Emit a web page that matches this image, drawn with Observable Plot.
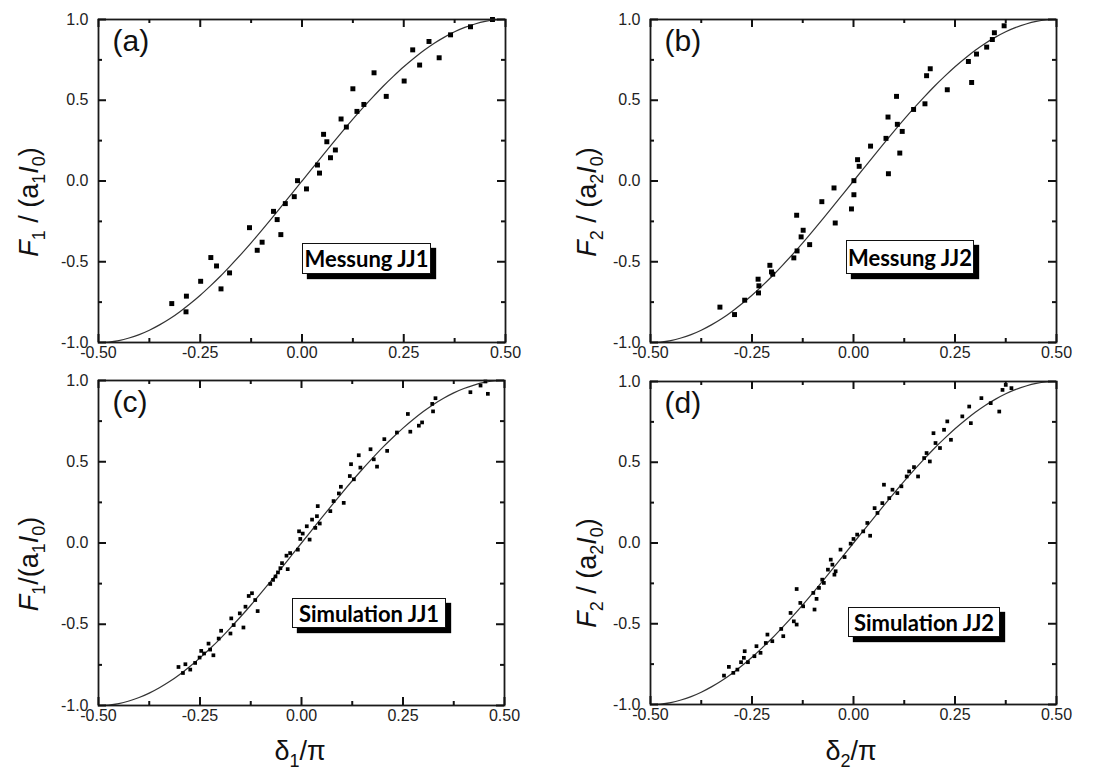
<!DOCTYPE html>
<html>
<head>
<meta charset="utf-8">
<script src="https://cdn.jsdelivr.net/npm/d3@7"></script>
<script src="https://cdn.jsdelivr.net/npm/@observablehq/plot@0.6"></script>
<style>
  html, body { margin: 0; padding: 0; background: #fff; }
  #root { position: relative; width: 1117px; height: 772px; overflow: hidden; background: #fff; }
  .panel { position: absolute; }
  .panel svg { overflow: visible; background: transparent; }
  .tag {
    position: absolute; box-sizing: border-box; background: #fff;
    border: 1.5px solid #111; box-shadow: 5px 5px 1px #000;
    font-family: Lato, "Open Sans", sans-serif; font-weight: 700; font-size: 22px;
    color: #000; display: flex; align-items: center; justify-content: center;
    white-space: nowrap;
  }
  #overlay { position: absolute; left: 0; top: 0; pointer-events: none; }
</style>
</head>
<body>
<div id="root"></div>
<script>
// ---------- data ----------
const xTicks = [-0.5, -0.25, 0, 0.25, 0.5];
const xMinor = [-0.375, -0.125, 0.125, 0.375];
const yTicks = [-1, -0.5, 0, 0.5, 1];
const yMinor = [-0.75, -0.25, 0.25, 0.75];

// fitted curve
const curveX = [-0.5,-0.475,-0.45,-0.425,-0.4,-0.375,-0.35,-0.325,-0.3,-0.275,-0.25,-0.225,-0.2,-0.175,-0.15,-0.125,-0.1,-0.075,-0.05,-0.025,0,
                 0.025,0.05,0.075,0.1,0.125,0.15,0.175,0.2,0.225,0.25,0.275,0.3,0.325,0.35,0.375,0.4,0.425,0.45,0.475,0.5];
const curveY = [-1.000,-0.997,-0.988,-0.972,-0.951,-0.924,-0.891,-0.853,-0.809,-0.760,-0.707,-0.649,-0.588,-0.522,-0.454,-0.383,-0.309,-0.233,-0.156,-0.078,0,
                 0.078,0.156,0.233,0.309,0.383,0.454,0.522,0.588,0.649,0.707,0.760,0.809,0.853,0.891,0.924,0.951,0.972,0.988,0.997,1.000];

// (a) Messung JJ1
const aX = [-0.320,-0.284,-0.285,-0.249,-0.224,-0.210,-0.199,-0.178,-0.129,-0.110,-0.098,-0.070,-0.061,-0.052,-0.041,-0.019,-0.011,0.011,0.038,0.043,
            0.053,0.061,0.070,0.082,0.096,0.109,0.125,0.135,0.152,0.177,0.207,0.251,0.272,0.289,0.312,0.337,0.365,0.414,0.468];
const aY = [-0.759,-0.713,-0.810,-0.621,-0.474,-0.526,-0.668,-0.569,-0.289,-0.429,-0.379,-0.188,-0.239,-0.332,-0.140,-0.097,0.002,-0.049,0.099,0.049,
            0.289,0.243,0.144,0.192,0.384,0.334,0.571,0.431,0.474,0.670,0.524,0.619,0.812,0.718,0.864,0.763,0.905,0.955,1.000];

// (b) Messung JJ2
const bX = [-0.329,-0.293,-0.268,-0.235,-0.233,-0.234,-0.206,-0.202,-0.199,-0.147,-0.140,-0.139,-0.129,-0.124,-0.108,-0.078,-0.048,-0.045,-0.005,0.001,
            0.001,0.010,0.014,0.042,0.080,0.085,0.086,0.106,0.108,0.114,0.120,0.148,0.176,0.180,0.189,0.231,0.283,0.291,0.303,0.328,0.342,0.347,0.371];
const bY = [-0.781,-0.827,-0.738,-0.608,-0.649,-0.693,-0.522,-0.563,-0.577,-0.476,-0.212,-0.433,-0.346,-0.305,-0.394,-0.128,-0.043,-0.260,-0.173,-0.085,
            0.002,0.132,0.091,0.216,0.264,0.396,0.045,0.524,0.351,0.173,0.307,0.443,0.478,0.652,0.695,0.565,0.740,0.610,0.786,0.829,0.876,0.918,0.961];

// (c) Simulation JJ1
const cX = [-0.303,-0.292,-0.286,-0.274,-0.262,-0.251,-0.247,-0.240,-0.229,-0.225,-0.217,-0.204,-0.198,-0.175,-0.173,-0.167,-0.152,-0.143,-0.138,-0.130,
            -0.122,-0.114,-0.108,-0.077,-0.070,-0.064,-0.058,-0.052,-0.048,-0.034,-0.037,-0.028,-0.009,-0.003,-0.006,0.003,0.013,0.020,0.026,0.034,
            0.038,0.045,0.040,0.071,0.079,0.092,0.104,0.097,0.119,0.122,0.129,0.141,0.145,0.170,0.178,0.186,0.204,0.211,0.235,0.262,
            0.268,0.289,0.297,0.322,0.330,0.324,0.416,0.441,0.453,0.459];
const cY = [-0.763,-0.800,-0.746,-0.779,-0.738,-0.705,-0.664,-0.680,-0.619,-0.656,-0.691,-0.588,-0.540,-0.557,-0.464,-0.505,-0.433,-0.520,-0.392,-0.326,
            -0.309,-0.351,-0.419,-0.252,-0.227,-0.206,-0.181,-0.155,-0.124,-0.161,-0.078,-0.062,-0.041,0.025,0.072,0.058,0.103,0.021,0.144,0.093,
            0.165,0.120,0.227,0.196,0.258,0.305,0.247,0.346,0.412,0.485,0.392,0.540,0.464,0.577,0.515,0.470,0.639,0.567,0.680,0.794,
            0.685,0.722,0.742,0.856,0.891,0.810,0.928,0.969,0.994,0.918];

// (d) Simulation JJ2
const dX = [-0.319,-0.307,-0.296,-0.286,-0.277,-0.270,-0.268,-0.260,-0.244,-0.239,-0.229,-0.216,-0.212,-0.200,-0.178,-0.173,-0.155,-0.147,-0.140,-0.140,
            -0.131,-0.124,-0.099,-0.096,-0.091,-0.085,-0.077,-0.073,-0.063,-0.056,-0.052,-0.047,-0.044,-0.032,-0.022,-0.007,0.000,0.009,0.024,0.034,
            0.041,0.052,0.059,0.071,0.075,0.088,0.096,0.108,0.118,0.131,0.137,0.149,0.159,0.174,0.180,0.188,0.197,0.202,0.213,0.223,
            0.231,0.240,0.268,0.285,0.289,0.315,0.338,0.359,0.367,0.375,0.389];
const dY = [-0.821,-0.767,-0.804,-0.784,-0.738,-0.711,-0.670,-0.738,-0.701,-0.639,-0.680,-0.619,-0.567,-0.608,-0.532,-0.577,-0.433,-0.485,-0.285,-0.505,
            -0.371,-0.392,-0.309,-0.412,-0.346,-0.278,-0.227,-0.247,-0.165,-0.103,-0.134,-0.196,-0.175,-0.041,-0.087,-0.004,0.025,0.052,0.072,0.124,
            0.045,0.216,0.186,0.247,0.361,0.278,0.330,0.309,0.351,0.412,0.443,0.470,0.412,0.526,0.557,0.505,0.680,0.619,0.588,0.701,
            0.753,0.639,0.784,0.845,0.742,0.897,0.866,0.814,0.948,0.979,0.959];

// ---------- drawing ----------
const root = document.getElementById("root");
const ink = "#222";
const tickFont = "Liberation Sans, Arial, sans-serif";

function panel({xs, ys, r, left, top, width, height, mt, mr, mb, ml, letter}) {
  const pts = xs.map((x, i) => ({x, y: ys[i]}));
  const curve = curveX.map((x, i) => ({x, y: curveY[i]}));
  const iw = width - ml - mr;   // inner width
  const ih = height - mt - mb;  // inner height
  const tk = {stroke: "#111", strokeWidth: 2};
  const chart = Plot.plot({
    width, height,
    marginTop: mt, marginRight: mr, marginBottom: mb, marginLeft: ml,
    style: {fontFamily: tickFont, fontSize: "16px", color: ink, background: "transparent", overflow: "visible"},
    x: {domain: [-0.5, 0.5]},
    y: {domain: [-1, 1]},
    marks: [
      // tick labels
      Plot.axisX(xTicks, {anchor: "bottom", tickSize: 0, tickPadding: 4, tickFormat: d => d.toFixed(2), label: null, fill: ink, fontSize: 16}),
      Plot.axisY(yTicks, {anchor: "left", tickSize: 0, tickPadding: 10, tickFormat: d => d.toFixed(1), label: null, fill: ink, fontSize: 16}),
      Plot.line(curve, {x: "x", y: "y", stroke: "#333", strokeWidth: 1.2, curve: "natural"}),
      Plot.dot(pts, {x: "x", y: "y", symbol: "square", r, fill: "#000", stroke: "none"}),
      Plot.text([letter], {frameAnchor: "top-left", dx: 14, dy: 10, lineAnchor: "top", textAnchor: "start",
                           fontSize: 30, fontFamily: tickFont, fill: "#111"}),
      Plot.frame({stroke: "#1a1a1a", strokeWidth: 1.8}),
      // inward ticks on all four sides
      Plot.ruleX(xTicks, {x: d => d, insetTop: ih - 8, ...tk}),
      Plot.ruleX(xMinor, {x: d => d, insetTop: ih - 4, ...tk}),
      Plot.ruleX(xTicks, {x: d => d, insetBottom: ih - 8, ...tk}),
      Plot.ruleX(xMinor, {x: d => d, insetBottom: ih - 4, ...tk}),
      Plot.ruleY(yTicks, {y: d => d, insetRight: iw - 8, ...tk}),
      Plot.ruleY(yMinor, {y: d => d, insetRight: iw - 4, ...tk}),
      Plot.ruleY(yTicks, {y: d => d, insetLeft: iw - 8, ...tk}),
      Plot.ruleY(yMinor, {y: d => d, insetLeft: iw - 4, ...tk})
    ]
  });
  const div = document.createElement("div");
  div.className = "panel";
  div.style.left = left + "px";
  div.style.top = top + "px";
  div.appendChild(chart);
  root.appendChild(div);
}

panel({xs: aX, ys: aY, r: 2.8, left: 0,   top: 0,   width: 558, height: 392, mt: 19, mr: 53, mb: 50, ml: 98, letter: "(a)"});
panel({xs: bX, ys: bY, r: 2.8, left: 557, top: 0,   width: 560, height: 392, mt: 19, mr: 61, mb: 50, ml: 93, letter: "(b)"});
panel({xs: cX, ys: cY, r: 2.1, left: 0,   top: 372, width: 558, height: 400, mt: 8,  mr: 54, mb: 67, ml: 98, letter: "(c)"});
panel({xs: dX, ys: dY, r: 2.1, left: 557, top: 372, width: 560, height: 400, mt: 9,  mr: 61, mb: 68, ml: 93, letter: "(d)"});

// label boxes
const tags = [
  {text: "Messung JJ1",    left: 302, top: 243, w: 129, h: 31},
  {text: "Messung JJ2",    left: 846, top: 240, w: 128, h: 34},
  {text: "Simulation JJ1", left: 292, top: 598, w: 154, h: 30},
  {text: "Simulation JJ2", left: 848, top: 607, w: 152, h: 30}
];
for (const t of tags) {
  const el = document.createElement("div");
  el.className = "tag";
  el.textContent = t.text;
  Object.assign(el.style, {left: t.left + "px", top: t.top + "px", width: t.w + "px", height: t.h + "px"});
  root.appendChild(el);
}

// axis titles with subscripts
const ov = d3.select(root).append("svg").attr("id", "overlay").attr("width", 1117).attr("height", 772)
  .style("font-family", tickFont).style("fill", "#111");

function yTitle(cx, cy, idx, spaced) {
  const t = ov.append("text").attr("transform", `translate(${cx},${cy}) rotate(-90)`)
    .attr("text-anchor", "middle").attr("font-size", 27);
  t.append("tspan").attr("font-style", "italic").text("F");
  t.append("tspan").attr("font-size", 18).attr("dy", 7).text(idx);
  t.append("tspan").attr("dy", -7).text(spaced ? " / (a" : "/(a");
  t.append("tspan").attr("font-size", 18).attr("dy", 7).text(idx);
  t.append("tspan").attr("dy", -7).attr("font-style", "italic").text("I");
  t.append("tspan").attr("font-size", 18).attr("dy", 7).text("0");
  t.append("tspan").attr("dy", -7).text(")");
}
function xTitle(cx, cy, idx) {
  const t = ov.append("text").attr("x", cx).attr("y", cy).attr("text-anchor", "middle").attr("font-size", 27);
  t.append("tspan").text("δ");
  t.append("tspan").attr("font-size", 18).attr("dy", 7).text(idx);
  t.append("tspan").attr("dy", -7).text("/π");
}
yTitle(38, 202, "1", true);
yTitle(596, 202, "2", true);
yTitle(38, 564, "1", false);
yTitle(596, 573, "2", true);
xTitle(300, 760, "1");
xTitle(851, 760, "2");
</script>
</body>
</html>
